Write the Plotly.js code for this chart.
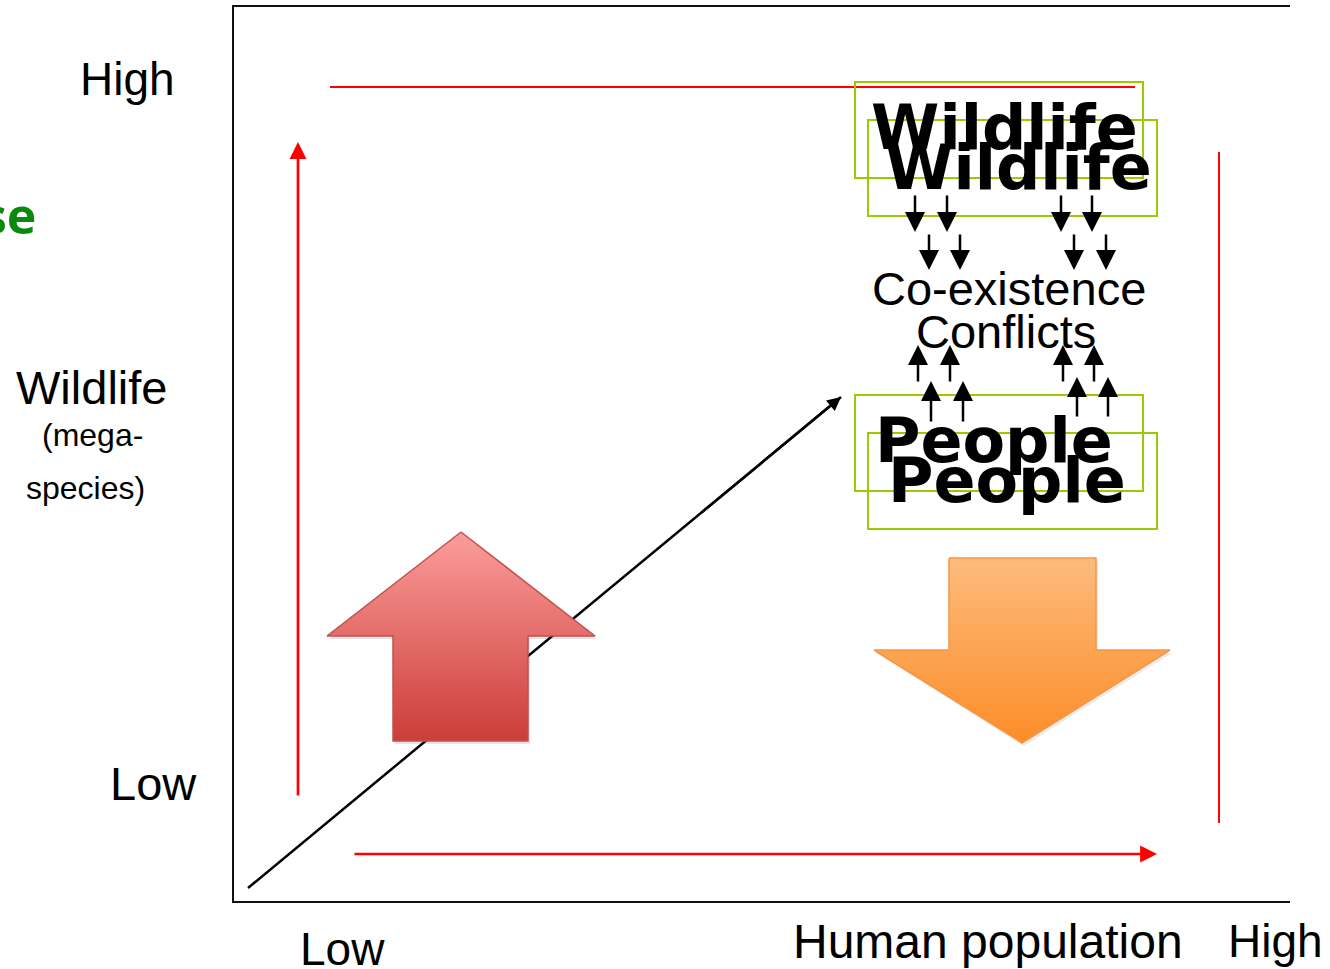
<!DOCTYPE html>
<html>
<head>
<meta charset="utf-8">
<script src="https://cdn.plot.ly/plotly-3.0.1.min.js"></script>
<style>html,body{margin:0;padding:0;background:#fff;}#chart{width:1330px;height:969px;}</style>
</head>
<body>
<div id="chart"></div>
<script>
// ---- Diagram data (pixel-space coordinates of the conceptual chart) ----
const frameX = [1290, 233, 233, 1290];
const frameY = [6, 6, 902, 902];

const topRedX = [330, 1135];
const topRedY = [87, 87];
const rightRedX = [1219, 1219];
const rightRedY = [152, 823];

// red axis arrows: tails and tips
const redTailX = [298, 353];
const redTailY = [797, 854];
const redTipX = [298, 1157];
const redTipY = [142, 854];

// black diagonal trend arrow
const diagX = [248, 841];
const diagY = [888, 397];

// block arrows (outline vertices)
const upBlockX = [461, 595, 528, 528, 393, 393, 327, 461];
const upBlockY = [532, 636, 636, 741, 741, 636, 636, 532];
const downBlockX = [949, 1096, 1096, 1170, 1022, 874, 949, 949];
const downBlockY = [558, 558, 650, 650, 743, 650, 650, 558];

// green boxes
const boxX0 = [855, 868, 855, 868];
const boxY0 = [82, 120, 395, 433];
const boxX1 = [1143, 1157, 1143, 1157];
const boxY1 = [178, 216, 491, 529];

// small black arrows (Wildlife -> Co-existence)
const downArrowX = [915, 947, 1061, 1092, 929, 960, 1074, 1106];
const downArrowTail = [194, 194, 194, 194, 233, 233, 233, 233];
const downArrowTip = [232, 232, 232, 232, 270, 270, 270, 270];
// small black arrows (People -> Conflicts)
const upArrowX = [918, 950, 1063, 1094, 931, 963, 1077, 1108];
const upArrowTail = [383, 383, 383, 383, 423, 423, 418, 418];
const upArrowTip = [345, 345, 345, 345, 381, 381, 377, 377];

// text labels
const labelText = ['High', 'Wildlife', '(mega-', 'species)', 'Low', 'Low', 'Human population', 'High', 'Co-existence', 'Conflicts'];
const boldText = ['Wildlife', 'Wildlife', 'People', 'People'];
const cutText = 'se';

// ---- Label placement ----
const labelX = [127, 91, 92, 85, 153, 342, 988, 1275, 1009, 1006];
const labelY = [79, 387, 435, 488, 783, 949, 941, 941, 288, 331];
const labelSize = [46, 47, 32, 32, 47, 46, 48, 46, 47, 47];
const boldX = [1004, 1018, 994, 1007];
const boldY = [127, 167, 440, 480];

const traces = [];
traces.push({x: frameX, y: frameY, mode: 'lines', line: {color: '#111', width: 2}, hoverinfo: 'skip'});
traces.push({x: topRedX, y: topRedY, mode: 'lines', line: {color: '#ff0000', width: 2}, hoverinfo: 'skip'});
traces.push({x: rightRedX, y: rightRedY, mode: 'lines', line: {color: '#ff0000', width: 2}, hoverinfo: 'skip'});
traces.push({x: diagX, y: diagY, mode: 'lines', line: {color: '#000', width: 2.5}, hoverinfo: 'skip'});
// soft shadows beneath block arrows
traces.push({x: upBlockX.map(v => v + 2), y: upBlockY.map(v => v + 3), mode: 'lines', fill: 'toself',
  fillcolor: 'rgba(0,0,0,0.10)', line: {width: 0, color: 'rgba(0,0,0,0)'}, hoverinfo: 'skip'});
traces.push({x: downBlockX.map(v => v + 2), y: downBlockY.map(v => v + 3), mode: 'lines', fill: 'toself',
  fillcolor: 'rgba(0,0,0,0.08)', line: {width: 0, color: 'rgba(0,0,0,0)'}, hoverinfo: 'skip'});
traces.push({x: upBlockX, y: upBlockY, mode: 'lines', fill: 'toself',
  fillgradient: {type: 'vertical', start: 532, stop: 741, colorscale: [[0, '#fb9d9b'], [1, '#cc3d39']]},
  line: {color: '#c0504d', width: 1.5}, hoverinfo: 'skip'});
traces.push({x: downBlockX, y: downBlockY, mode: 'lines', fill: 'toself',
  fillgradient: {type: 'vertical', start: 558, stop: 743, colorscale: [[0, '#fdbb7d'], [1, '#fc8d28']]},
  line: {color: '#f79646', width: 1.5}, hoverinfo: 'skip'});

const shapes = [];
for (let i = 0; i < boxX0.length; i++) {
  shapes.push({type: 'rect', xref: 'x', yref: 'y', x0: boxX0[i], y0: boxY0[i], x1: boxX1[i], y1: boxY1[i],
    line: {color: '#9acb00', width: 2}, fillcolor: 'rgba(0,0,0,0)', layer: 'above'});
}

const annotations = [];
function arrow(tx, ty, ax, ay, color, width, size) {
  annotations.push({x: tx, y: ty, ax: ax, ay: ay, xref: 'x', yref: 'y', axref: 'x', ayref: 'y',
    text: '', showarrow: true, arrowhead: 2, arrowsize: size, arrowwidth: width, arrowcolor: color, standoff: 0, startstandoff: 0});
}
for (let i = 0; i < redTipX.length; i++) arrow(redTipX[i], redTipY[i], redTailX[i], redTailY[i], '#ff0000', 2.7, 1.25);
arrow(diagX[1], diagY[1], 700, 397 + (888 - 397) * (841 - 700) / (841 - 248), '#000', 2.5, 1.1);
for (let i = 0; i < downArrowX.length; i++) arrow(downArrowX[i], downArrowTip[i], downArrowX[i], downArrowTail[i], '#000', 2.5, 1.6);
for (let i = 0; i < upArrowX.length; i++) arrow(upArrowX[i], upArrowTip[i], upArrowX[i], upArrowTail[i], '#000', 2.5, 1.6);

for (let i = 0; i < labelText.length; i++) {
  annotations.push({x: labelX[i], y: labelY[i], xref: 'x', yref: 'y', text: labelText[i], showarrow: false,
    xanchor: 'center', yanchor: 'middle', font: {family: 'Liberation Sans, Arial, sans-serif', size: labelSize[i], color: '#000'}});
}
for (let i = 0; i < boldText.length; i++) {
  annotations.push({x: boldX[i], y: boldY[i], xref: 'x', yref: 'y', text: boldText[i], showarrow: false,
    xanchor: 'center', yanchor: 'middle', font: {family: 'DejaVu Sans, sans-serif', size: 62, weight: 'bold', color: '#000'}});
}
annotations.push({x: 38, y: 215, xref: 'x', yref: 'y', text: cutText, showarrow: false, xanchor: 'right', yanchor: 'middle',
  font: {family: 'Open Sans, sans-serif', size: 50, weight: 'bold', color: '#0a8a0a'}});

const layout = {
  width: 1330, height: 969,
  margin: {l: 0, r: 0, t: 0, b: 0, pad: 0},
  paper_bgcolor: '#ffffff', plot_bgcolor: '#ffffff',
  showlegend: false, hovermode: false,
  xaxis: {range: [0, 1330], visible: false, fixedrange: true},
  yaxis: {range: [969, 0], visible: false, fixedrange: true},
  shapes: shapes,
  annotations: annotations
};

Plotly.newPlot('chart', traces, layout, {displayModeBar: false, staticPlot: true});
</script>
</body>
</html>
